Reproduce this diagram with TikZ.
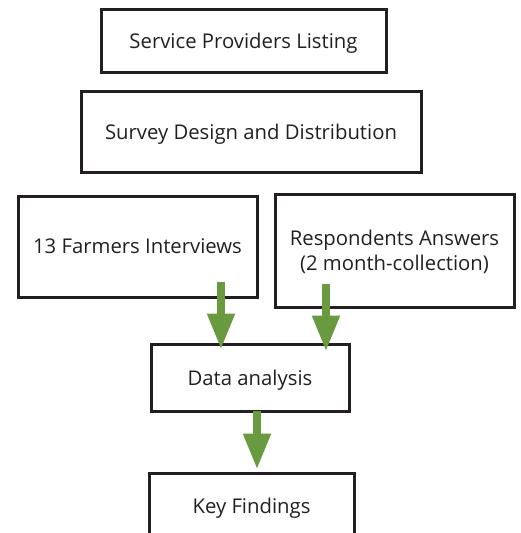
\documentclass[tikz,border=0pt]{standalone}
\usepackage{fontspec}
\setmainfont{Open Sans}
\usetikzlibrary{arrows.meta}
\definecolor{ink}{HTML}{231F20}
\definecolor{leaf}{HTML}{6A9A3F}
\tikzset{
  box/.style={draw=ink, line width=3pt, text=ink, align=center, inner sep=0pt, text depth=0pt, font=\fontsize{20.3}{25}\selectfont},
  garrow/.style={draw=leaf, line width=8pt, -{Triangle[length=36pt,width=26pt]}}
}
\begin{document}
\begin{tikzpicture}[x=1pt,y=-1pt]
\useasboundingbox (0,0) rectangle (521,533);
\node[box, minimum width=285pt, minimum height=63pt] (s) at (243.5,40.5) {Service Providers Listing};
\node[box, minimum width=340pt, minimum height=81pt] (d1) at (251,131.5) {Survey Design and Distribution};
\node[box, minimum width=239pt, minimum height=101pt] (f) at (137.5,246.5) {13 Farmers Interviews};
\node[box, minimum width=239pt, minimum height=113pt] (r) at (394.5,250.5) {Respondents Answers\\ (2 month-collection)};
\node[box, minimum width=198pt, minimum height=67pt] (d) at (250,377.5) {Data analysis};
\node[box, minimum width=205pt, minimum height=66pt] (k) at (251.5,506) {Key Findings};
\draw[garrow] ([xshift=83.5pt,yshift=17pt]f.south) -- ([xshift=-29pt,yshift=-7pt]d.north);
\draw[garrow] ([xshift=-68.5pt,yshift=25pt]r.south) -- ([xshift=76pt,yshift=-9pt]d.north);
\draw[garrow] ([xshift=7pt,yshift=2pt]d.south) -- ([xshift=5.5pt,yshift=2pt]k.north);
\end{tikzpicture}
\end{document}
